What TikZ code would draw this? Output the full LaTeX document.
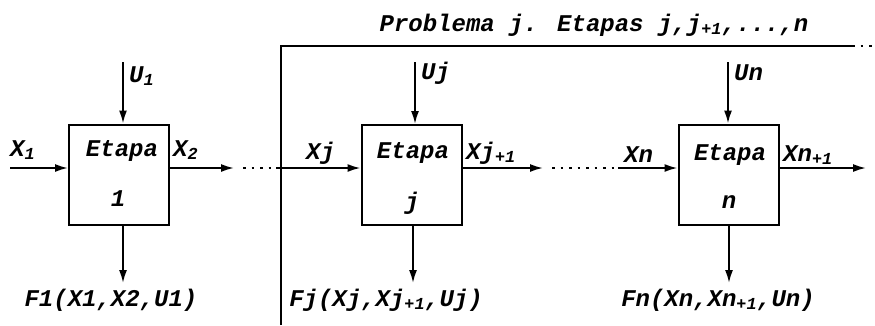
\documentclass[tikz,border=0pt]{standalone}
\usepackage{fontspec}
\newfontfamily\plotfont{Liberation Mono}
\usetikzlibrary{arrows.meta}
\tikzset{
  lbl/.style={inner sep=0pt, font=\plotfont\bfseries\itshape\fontsize{24}{26}\selectfont},
  stagebox/.style={draw, line width=2pt, minimum width=100pt, minimum height=100pt, inner sep=0pt},
  flow/.style={line width=1.8pt, -{Latex[length=13pt,width=8pt]}},
  plain/.style={line width=1.8pt},
  dotline/.style={line width=2pt, dash pattern=on 2.5pt off 6pt},
}
\begin{document}
\begin{tikzpicture}[x=1pt,y=-1pt]
\useasboundingbox (0,0) rectangle (875,325);
% boxes
\node[stagebox] (b1) at (119,174.5) {};
\node[stagebox] (bj) at (411.5,175) {};
\node[stagebox] (bn) at (728.5,174.5) {};
% box texts
\node[lbl] (e1) at (122,151) {Etapa};
\node[lbl] (n1) at (118,199) {1};
\node[lbl] (ej) at (413,153) {Etapa};
\node[lbl] (nj) at (412,203) {j};
\node[lbl] (en) at (730,155) {Etapa};
\node[lbl] (nn) at (729,202) {n};
% frame of problem j
\coordinate (fb) at (281,325);
\coordinate (ft) at (281,46);
\coordinate (fr) at (852,46);
\coordinate (fe) at (874,46);
\draw[plain] (fb) -- (ft) -- (fr);
\draw[dotline] (fr) -- (fe);
\node[lbl] (title) at (594,25) {Problema j. Etapas j,j\textsubscript{+1},...,n};
% control inputs
\coordinate (u1) at (123,62);
\coordinate (uj) at (415,62);
\coordinate (un) at (728,62);
\draw[flow] (u1) -- (u1 |- b1.north);
\draw[flow] (uj) -- (uj |- bj.north);
\draw[flow] (un) -- (un |- bn.north);
\node[lbl, anchor=west] (lu1) at (129,76) {U\textsubscript{1}};
\node[lbl, anchor=west] (luj) at (421,73) {Uj};
\node[lbl, anchor=west] (lun) at (734,73) {Un};
% returns
\coordinate (f1) at (123,283);
\coordinate (fj) at (413,283);
\coordinate (fn) at (729,283);
\draw[flow] (f1 |- b1.south) -- (f1);
\draw[flow] (fj |- bj.south) -- (fj);
\draw[flow] (fn |- bn.south) -- (fn);
\node[lbl] (lf1) at (111,300) {F1(X1,X2,U1)};
\node[lbl] (lfj) at (386,300) {Fj(Xj,Xj\textsubscript{+1},Uj)};
\node[lbl] (lfn) at (718,300) {Fn(Xn,Xn\textsubscript{+1},Un)};
% state flow
\coordinate (xin) at (10,168);
\coordinate (x2tip) at (234,168);
\coordinate (d1a) at (243,168);
\coordinate (d1b) at (276,168);
\coordinate (xjtail) at (276,168);
\coordinate (xj1tip) at (543,168);
\coordinate (d2a) at (552,168);
\coordinate (d2b) at (618,168);
\coordinate (xntail) at (618,168);
\coordinate (xout) at (866,168);
\draw[flow] (xin) -- (xin -| b1.west);
\draw[flow] (x2tip -| b1.east) -- (x2tip);
\draw[dotline] (d1a) -- (d1b);
\draw[flow] (xjtail) -- (xjtail -| bj.west);
\draw[flow] (xj1tip -| bj.east) -- (xj1tip);
\draw[dotline] (d2a) -- (d2b);
\draw[flow] (xntail) -- (xntail -| bn.west);
\draw[flow] (xout -| bn.east) -- (xout);
% state labels
\node[lbl, anchor=west] (lx1) at (10,150) {X\textsubscript{1}};
\node[lbl, anchor=west] (lx2) at (173,150) {X\textsubscript{2}};
\node[lbl, anchor=west] (lxj) at (306,153) {Xj};
\node[lbl, anchor=west] (lxj1) at (466,153) {Xj\textsubscript{+1}};
\node[lbl, anchor=west] (lxn) at (624,155) {Xn};
\node[lbl, anchor=west] (lxn1) at (783,155) {Xn\textsubscript{+1}};
\end{tikzpicture}
\end{document}
